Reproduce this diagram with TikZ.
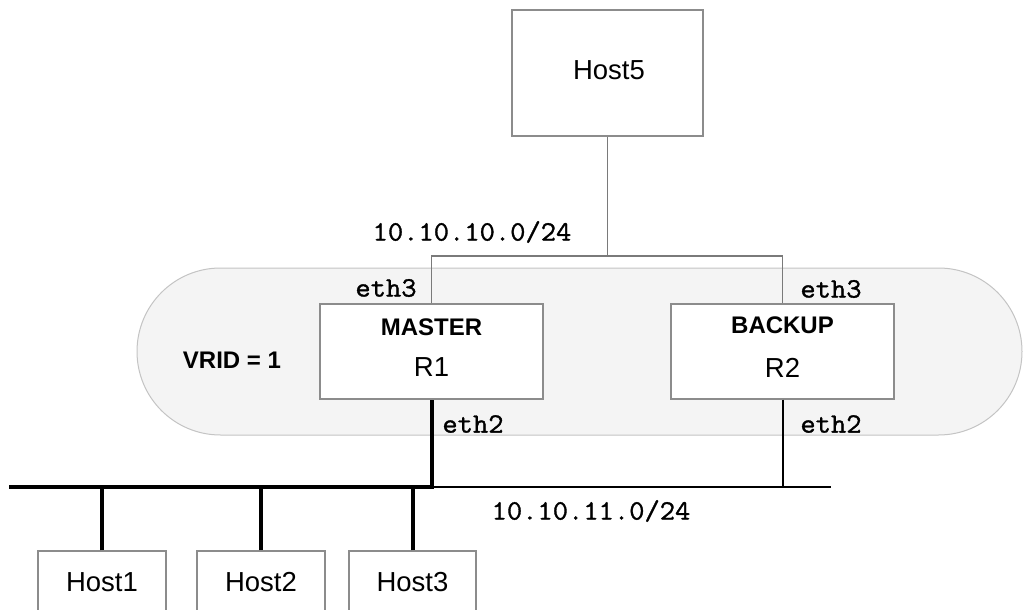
\documentclass[tikz,border=0pt]{standalone}
\usepackage{fontspec}
\setmainfont{Liberation Sans}
\newfontfamily\monof[FakeStretch=1.06,FakeBold=1.2]{Latin Modern Mono}
\definecolor{boxline}{HTML}{8C8C8C}
\definecolor{thinline}{HTML}{7A7A7A}
\definecolor{pillfill}{HTML}{F4F4F4}
\definecolor{pillline}{HTML}{C4C4C4}
\tikzset{
  hostbox/.style={draw=boxline, line width=1.2pt, fill=white, inner sep=0pt},
  rbox/.style={draw=boxline, line width=1.2pt, fill=white, inner sep=0pt, minimum width=223pt, minimum height=95pt},
  sanslbl/.style={inner sep=0pt, font=\fontsize{27.5}{30}\selectfont},
  boldlbl/.style={inner sep=0pt, font=\fontsize{24}{28}\selectfont\bfseries},
  monolbl/.style={inner sep=0pt, font=\fontsize{28}{30}\selectfont\monof},
  thinwire/.style={draw=thinline, line width=1.1pt},
  midwire/.style={draw=black, line width=2pt},
  thickwire/.style={draw=black, line width=4pt, line join=miter},
}
\begin{document}
\begin{tikzpicture}[x=1pt,y=-1pt]
\useasboundingbox (0,0) rectangle (1023,610);
\clip (0,0) rectangle (1023,610);
\fill[white] (0,0) rectangle (1023,610);
% VRID pill
\draw[pillline, fill=pillfill, line width=1pt, rounded corners=83.5pt] (137,268) rectangle (1022,435);
\node[boldlbl] (vrid) at (232,360) {VRID = 1};
% Host5
\node[hostbox, minimum width=191pt, minimum height=126pt] (h5) at (607.5,73) {};
\node[sanslbl] (h5t) at (609,70) {Host5};
% routers
\node[rbox] (r1) at (431.5,351.5) {};
\node[boldlbl] (r1m) at (431.5,327) {MASTER};
\node[sanslbl] (r1t) at (431.5,367) {R1};
\node[rbox] (r2) at (782.5,351.5) {};
\node[boldlbl] (r2m) at (782.5,325) {BACKUP};
\node[sanslbl] (r2t) at (782.5,368) {R2};
% hosts
\node[hostbox, minimum width=128pt, minimum height=62pt] (h1) at (102,582) {};
\node[sanslbl] (h1t) at (102,582) {Host1};
\node[hostbox, minimum width=128pt, minimum height=62pt] (h2) at (261,582) {};
\node[sanslbl] (h2t) at (261,582) {Host2};
\node[hostbox, minimum width=127pt, minimum height=62pt] (h3) at (412.5,582) {};
\node[sanslbl] (h3t) at (412.5,582) {Host3};
% upper network
\coordinate (t1) at (431.5,256);
\coordinate (t2) at (782.5,256);
\draw[thinwire] (h5.south) -- (h5.south |- t1);
\draw[thinwire] (r1.north) -- (t1) -- (t2) -- (r2.north);
% lower network
\coordinate (busL) at (9,487);
\coordinate (busR) at (831,487);
\draw[midwire] (r1.south |- busL) -- (busR);
\draw[midwire] (r2.south) -- (r2.south |- busR);
\draw[thickwire] (busL) -- (r1.south |- busL) -- (r1.south);
\draw[thickwire] (h1.north) -- (h1.north |- busL);
\draw[thickwire] (h2.north) -- (h2.north |- busL);
\draw[thickwire] (h3.north) -- (h3.north |- busL);
% labels
\node[monolbl] (n1) at (472,232) {10.10.10.0/24};
\node[monolbl] (e3a) at (386,288) {eth3};
\node[monolbl] (e3b) at (831,289) {eth3};
\node[monolbl] (e2a) at (473,424) {eth2};
\node[monolbl] (e2b) at (831,424) {eth2};
\node[monolbl] (n2) at (591,511) {10.10.11.0/24};
\end{tikzpicture}
\end{document}
